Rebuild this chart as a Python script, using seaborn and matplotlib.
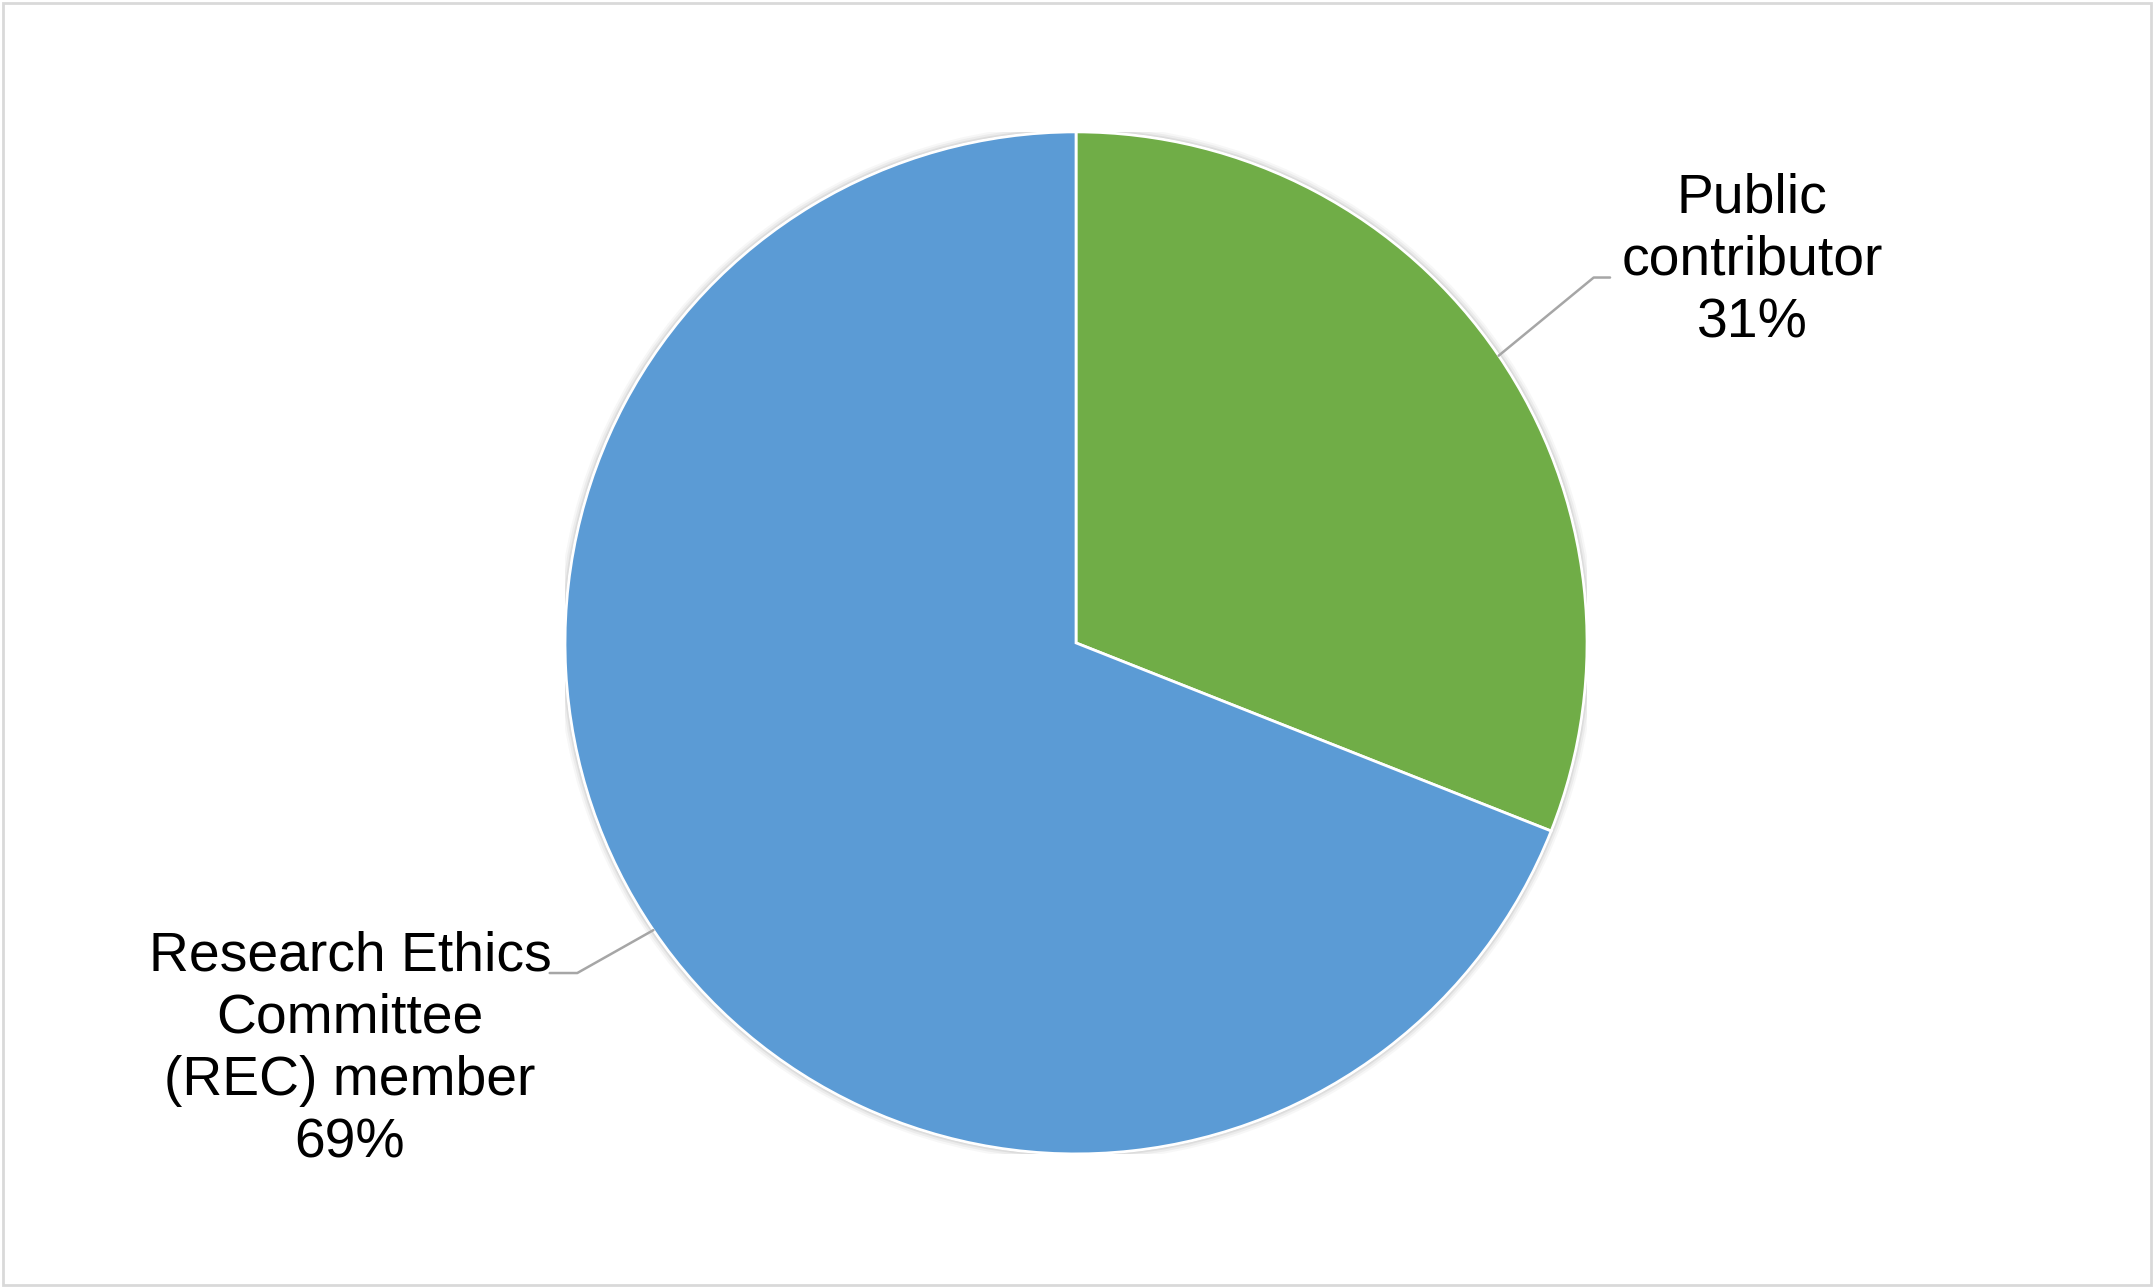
import matplotlib
matplotlib.use("Agg")
import matplotlib.pyplot as plt
from matplotlib.patches import Circle, Rectangle
import numpy as np
import seaborn as sns

# data
categories = ["Public\ncontributor", "Research Ethics\nCommittee\n(REC) member"]
shares = [31, 69]
colors = ["#70AD47", "#5B9BD5"]

# label text centres (pie radius units) and leader-line elbows
label_pos = [(1.323, 0.748), (-1.421, -0.797)]
elbow_pos = [(1.013, 0.715), (-0.976, -0.646)]
elbow_end = [(1.045, 0.715), (-1.030, -0.646)]

sns.set_theme(style="white")
plt.rcParams["font.family"] = ["Liberation Sans", "DejaVu Sans"]

fig = plt.figure(figsize=(10.77, 6.44), dpi=200)
fig.patch.set_facecolor("white")
fig.patches.append(Rectangle((0.0015, 0.0025), 0.997, 0.995, transform=fig.transFigure,
                             fill=False, edgecolor="#D9D9D9", linewidth=1.0))

ax = fig.add_axes([0.2623, 0.1041, 0.4745, 0.7935])

# soft shadow round the pie
for r, a in [(1.014, 0.06), (1.010, 0.09), (1.006, 0.13), (1.003, 0.18)]:
    ax.add_patch(Circle((0, 0), r, color="#7F7F7F", alpha=a, lw=0, zorder=0))

wedges, _ = ax.pie(shares, colors=colors, startangle=90, counterclock=False,
                   radius=1, wedgeprops=dict(edgecolor="white", linewidth=1.0))
for w in wedges:
    w.set_zorder(2)

ax.set_xlim(-1, 1)
ax.set_ylim(-1, 1)
ax.set_aspect("equal")
ax.axis("off")

for w, cat, val, lp, ep, ee in zip(wedges, categories, shares, label_pos, elbow_pos, elbow_end):
    mid = np.deg2rad((w.theta1 + w.theta2) / 2)
    x0, y0 = np.cos(mid), np.sin(mid)
    ax.plot([x0, ep[0], ee[0]], [y0, ep[1], ee[1]], color="#A6A6A6", lw=0.9,
            clip_on=False, zorder=3)
    ax.text(lp[0], lp[1], f"{cat}\n{val}%", ha="center", va="center",
            fontsize=19.9, color="black", linespacing=1.26, clip_on=False)

fig.savefig("out.png", dpi=200, facecolor="white")
